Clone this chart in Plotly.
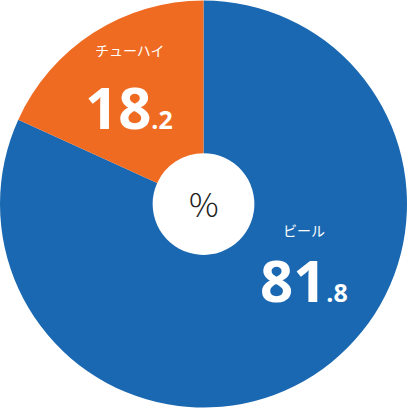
import plotly.graph_objects as go

categories = ["ビール", "チューハイ"]
values = [81.8, 18.2]
colors = ["#1a68b1", "#f06b22"]
center_text = "%"

W, H = 407, 408

fig = go.Figure(go.Pie(
    labels=categories,
    values=values,
    hole=0.25,
    sort=False,
    direction="clockwise",
    rotation=0,
    marker=dict(colors=colors, line=dict(width=0)),
    textinfo="none",
    hoverinfo="label+value",
    showlegend=False,
    domain=dict(x=[0, 1], y=[0, 1]),
))


def split(v):
    s = f"{v:.1f}"
    a, b = s.split(".")
    return a, "." + b


annotations = []
# label positions in pixels (center x, name y, value y)
label_pos = {"チューハイ": (129, 50, 107), "ビール": (304, 230, 279)}
for cat, val in zip(categories, values):
    cx, ny, vy = label_pos[cat]
    a, b = split(val)
    annotations.append(dict(
        x=cx / W, y=1 - ny / H, xref="paper", yref="paper",
        text=cat, showarrow=False, xanchor="center", yanchor="middle",
        font=dict(size=14, color="white", family="Noto Sans CJK JP"),
    ))
    annotations.append(dict(
        x=cx / W, y=1 - vy / H, xref="paper", yref="paper",
        text=f"<b>{a}</b><b><span style='font-size:25px'>{b}</span></b>",
        showarrow=False, xanchor="center", yanchor="middle",
        font=dict(size=58, color="white", family="Open Sans"),
    ))

annotations.append(dict(
    x=0.5, y=1 - 203 / H, xref="paper", yref="paper",
    text=center_text, showarrow=False, xanchor="center", yanchor="middle",
    font=dict(size=33, color="#222222", family="Noto Sans CJK JP", weight=300),
))

fig.update_layout(
    width=W, height=H,
    margin=dict(l=0, r=0, t=0, b=0),
    paper_bgcolor="white",
    plot_bgcolor="white",
    annotations=annotations,
)

fig.write_html(
    "out.html",
    config={"displayModeBar": False},
    post_script="document.body.style.margin='0';document.body.style.overflow='hidden';",
)
